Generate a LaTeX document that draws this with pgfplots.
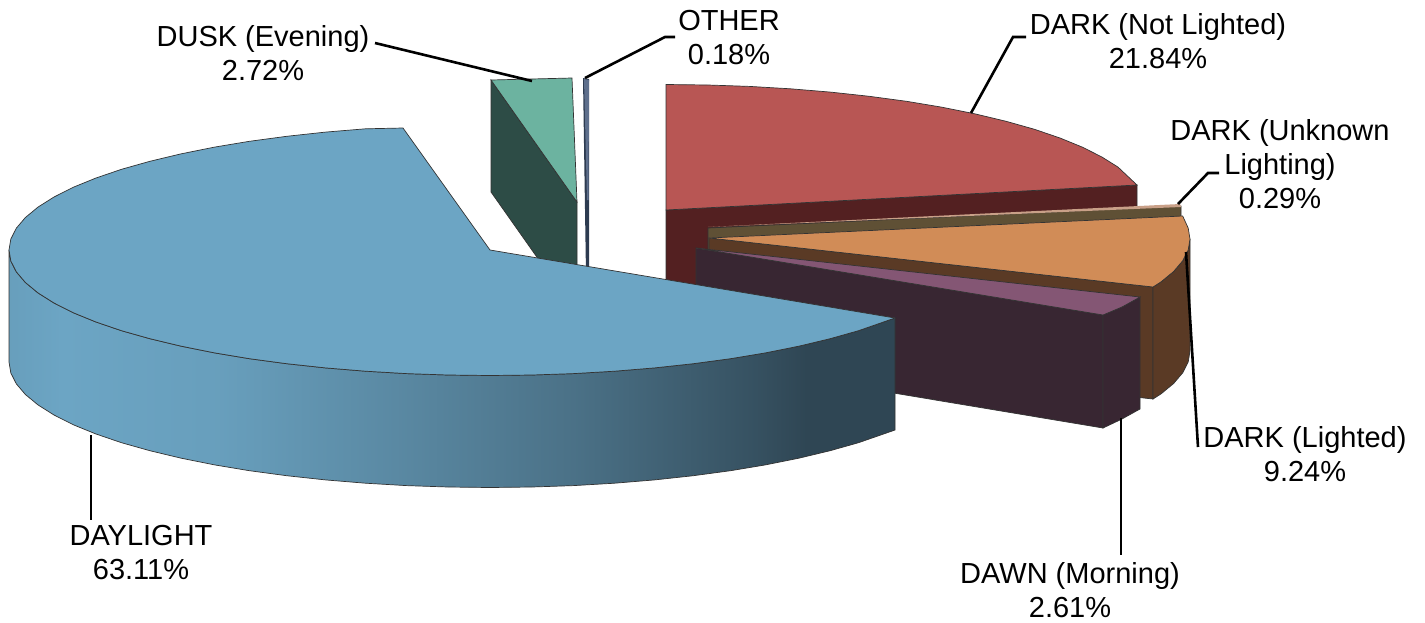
\documentclass[border=0pt]{standalone}
\usepackage{pgfplots}
\usepackage{fontspec}
\setmainfont{Liberation Sans}
\pgfplotsset{compat=1.18}

\definecolor{bluetop}{HTML}{6CA5C4}
\definecolor{bluedark}{HTML}{2F4654}
\definecolor{redtop}{HTML}{B85654}
\definecolor{reddark}{HTML}{532021}
\definecolor{orangetop}{HTML}{D18C57}
\definecolor{orangedark}{HTML}{5A3A25}
\definecolor{purpletop}{HTML}{845674}
\definecolor{purpledark}{HTML}{382632}
\definecolor{greentop}{HTML}{6CB3A0}
\definecolor{greendark}{HTML}{2D4C46}
\definecolor{olive}{HTML}{5F5035}
\definecolor{tanline}{HTML}{C9A088}
\definecolor{otherlight}{HTML}{5E6F8C}
\definecolor{otherdark}{HTML}{2D3B50}

% colour runs left to right along the rim of the big slice
\pgfdeclarehorizontalshading{rim}{100bp}{
  color(0bp)=(bluetop!96!black);
  color(25bp)=(bluetop!96!black);
  color(28bp)=(bluetop);
  color(37bp)=(bluetop!96!black);
  color(47bp)=(bluetop!70!bluedark);
  color(57bp)=(bluetop!45!bluedark);
  color(67bp)=(bluetop!12!bluedark);
  color(70bp)=(bluedark);
  color(100bp)=(bluedark)}

\tikzset{slice/.style={line width=0.35pt,draw=black!80},
  lead/.style={line width=1.3pt,black,no marks}}

\begin{document}
\begin{tikzpicture}
\begin{axis}[
  hide axis,
  scale only axis,
  width=712.5pt,
  height=311pt,
  xmin=0,xmax=1425,
  ymin=0,ymax=622,
  y dir=reverse,
  clip=false,
  every axis plot/.append style={no marks}]

% keeps the page at the full size of the axis
\path (axis cs:0,0) rectangle (axis cs:1425,622);

% DUSK
\addplot[slice,fill=greendark] coordinates {(491,80) (577,202) (577,314) (491,192)} --cycle;
\addplot[slice,fill=greentop] coordinates {(491,80) (572,78) (577,202)} --cycle;
% OTHER
\addplot[fill=otherdark,draw=none] coordinates {(583,78) (589,79) (589,275) (586,275)} --cycle;
\addplot[fill=otherlight,draw=none] coordinates {(584,79) (589,80) (588.5,200) (587,200)} --cycle;

% DARK (Not Lighted)
\addplot[slice,fill=reddark] coordinates {(666,210) (1137,185) (1137,297) (666,322)} --cycle;
\addplot[slice,fill=redtop] coordinates {
  (666,84.5) (707.9,85) (749.5,86.4) (790.5,88.8) (830.5,92.1) (869.3,96.3) (906.5,101.3)
  (941.9,107.2) (975.2,113.9) (1006.1,121.3) (1034.5,129.3) (1060,138) (1082.5,147.2)
  (1101.9,157) (1118,167.1) (1137,185) (666,210)} --cycle;

% DARK (Unknown Lighting)
\addplot[slice,fill=olive] coordinates {(708,228) (1181,206) (1181,318) (708,340)} --cycle;
\addplot[fill=tanline,draw=none] coordinates {(708,227) (1180,204) (1181,207)} --cycle;

% DARK (Lighted)
\addplot[slice,fill=orangedark] coordinates {(709,238) (1153,287) (1153,399) (709,350)} --cycle;
\addplot[slice,fill=orangedark] coordinates {
  (1190,239) (1188.2,249.9) (1182.7,260.8) (1173.6,271.5) (1161,281.9) (1153,287)
  (1153,399) (1161,393.9) (1173.6,383.5) (1182.7,372.8) (1188.2,361.9) (1190,351)} --cycle;
\addplot[slice,fill=orangetop] coordinates {
  (709,238) (1182.7,216) (1188.2,228.1) (1190,239) (1188.2,249.9) (1182.7,260.8)
  (1173.6,271.5) (1161,281.9) (1153,287)} --cycle;

% DAWN (Morning)
\addplot[slice,fill=purpledark] coordinates {(696,248) (1103,315) (1103,428) (696,360)} --cycle;
\addplot[slice,fill=purpledark] coordinates {(1103,315) (1122,307) (1140,297) (1140,409) (1122,419) (1103,428)} --cycle;
\addplot[slice,fill=purpletop] coordinates {(696,248) (1140,297) (1122,307) (1103,315)} --cycle;

% DAYLIGHT rim
\addplot[slice,shade,shading=rim] coordinates {
  (9,250) (10.8,260.9) (16.3,271.8) (25.4,282.5) (38,292.9) (54,303) (73.4,312.8)
  (96,322) (121.5,330.7) (149.9,338.7) (180.8,346.1) (214.1,352.8) (249.5,358.7)
  (286.7,363.7) (325.5,367.9) (365.5,371.2) (406.5,373.6) (448.1,375) (490,375.5)
  (531.9,375) (573.5,373.6) (614.5,371.2) (654.5,367.9) (693.3,363.7) (730.5,358.7)
  (765.9,352.8) (799.2,346.1) (830.1,338.7) (858.5,330.7) (895,318)
  (895,430) (858.5,442.7) (830.1,450.7) (799.2,458.1) (765.9,464.8) (730.5,470.7)
  (693.3,475.7) (654.5,479.9) (614.5,483.2) (573.5,485.6) (531.9,487) (490,487.5)
  (448.1,487) (406.5,485.6) (365.5,483.2) (325.5,479.9) (286.7,475.7) (249.5,470.7)
  (214.1,464.8) (180.8,458.1) (149.9,450.7) (121.5,442.7) (96,434) (73.4,424.8)
  (54,415) (38,404.9) (25.4,394.5) (16.3,383.8) (10.8,372.9) (9,362)} --cycle;
% DAYLIGHT top
\addplot[slice,fill=bluetop] coordinates {
  (403,128) (365.5,128.8) (325.5,132.1) (286.7,136.3) (249.5,141.3) (214.1,147.2)
  (180.8,153.9) (149.9,161.3) (121.5,169.3) (96,178) (73.4,187.2) (54,197) (38,207.1)
  (25.4,217.5) (16.3,228.2) (10.8,239.1) (9,250) (10.8,260.9) (16.3,271.8) (25.4,282.5)
  (38,292.9) (54,303) (73.4,312.8) (96,322) (121.5,330.7) (149.9,338.7) (180.8,346.1)
  (214.1,352.8) (249.5,358.7) (286.7,363.7) (325.5,367.9) (365.5,371.2) (406.5,373.6)
  (448.1,375) (490,375.5) (531.9,375) (573.5,373.6) (614.5,371.2) (654.5,367.9)
  (693.3,363.7) (730.5,358.7) (765.9,352.8) (799.2,346.1) (830.1,338.7) (858.5,330.7)
  (895,318) (490,250)} --cycle;

% leader lines
\addplot[lead] coordinates {(375,43) (532,81)};
\addplot[lead] coordinates {(675,37) (665,37) (585,78)};
\addplot[lead] coordinates {(1026,37) (1013,37) (971,113)};
\addplot[lead] coordinates {(1219,173) (1208,173) (1178,204)};
\addplot[lead] coordinates {(1186,252) (1198,447)};
\addplot[lead] coordinates {(1121,418) (1121,555)};
\addplot[lead] coordinates {(91,435) (91,520)};

\tikzset{lab/.style={align=center,anchor=center,inner sep=0pt,font=\fontsize{14.5}{17}\selectfont}}
\node[lab] at (axis cs:141,553) {DAYLIGHT\\63.11\%};
\node[lab] at (axis cs:1070,590) {DAWN (Morning)\\2.61\%};
\node[lab] at (axis cs:1305,454) {DARK (Lighted)\\9.24\%};
\node[lab] at (axis cs:1280,164) {DARK (Unknown\\Lighting)\\0.29\%};
\node[lab] at (axis cs:1158,41) {DARK (Not Lighted)\\21.84\%};
\node[lab] at (axis cs:729,38) {OTHER\\0.18\%};
\node[lab] at (axis cs:263,53) {DUSK (Evening)\\2.72\%};
\end{axis}
\end{tikzpicture}
\end{document}
